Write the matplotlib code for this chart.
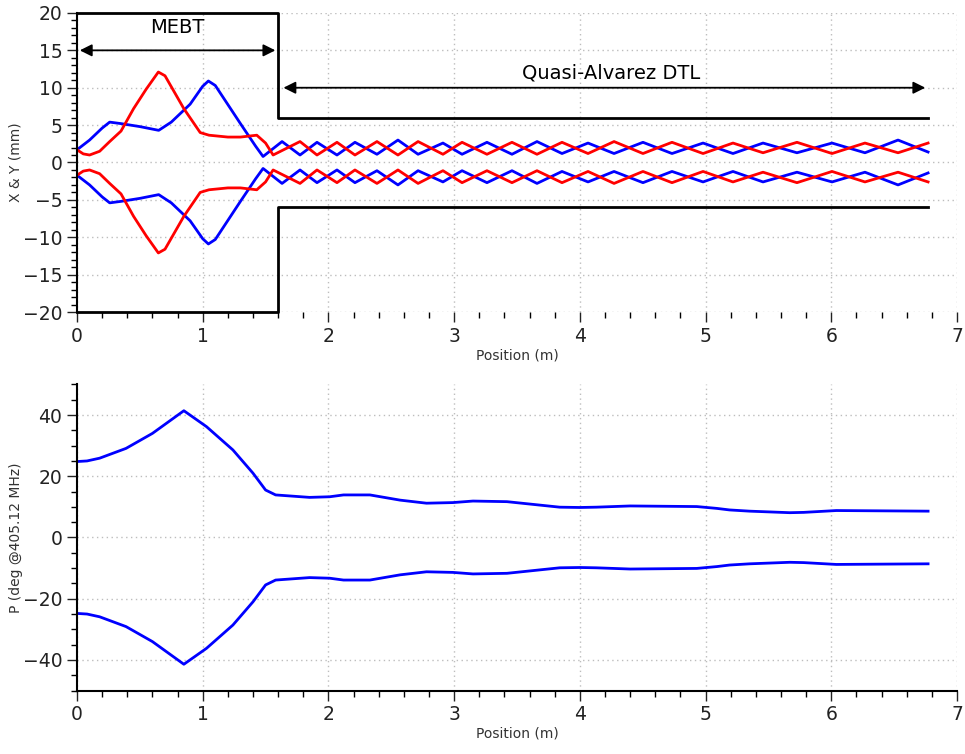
import numpy as np
import matplotlib.pyplot as plt
from matplotlib.ticker import MultipleLocator

# Envelope X (blue) - upper half, mm
x_pos = [0.0, 0.1, 0.2, 0.26, 0.35, 0.5, 0.65, 0.75, 0.9, 1.0, 1.045, 1.1, 1.3, 1.42, 1.48,
         1.631, 1.774, 1.909, 2.068, 2.211, 2.386, 2.553, 2.713, 2.911, 3.063, 3.261, 3.460,
         3.659, 3.858, 4.065, 4.272, 4.502, 4.733, 4.980, 5.218, 5.457, 5.727, 6.006, 6.268,
         6.531, 6.77]
x_env = [1.7, 3.0, 4.6, 5.4, 5.2, 4.8, 4.3, 5.4, 7.8, 10.2, 10.9, 10.3, 5.2, 2.2, 0.8,
         2.8, 1.0, 2.7, 1.0, 2.7, 1.1, 3.0, 1.1, 2.6, 1.1, 2.7, 1.1,
         2.8, 1.2, 2.6, 1.2, 2.7, 1.2, 2.6, 1.2, 2.6, 1.3, 2.6, 1.3,
         3.0, 1.4]

# Envelope Y (red) - upper half, mm
y_pos = [0.0, 0.05, 0.1, 0.18, 0.26, 0.35, 0.45, 0.55, 0.647, 0.7, 0.85, 0.98, 1.05, 1.2, 1.3,
         1.43, 1.5, 1.56,
         1.774, 1.909, 2.068, 2.211, 2.386, 2.553, 2.713, 2.911, 3.063, 3.261, 3.460, 3.659,
         3.858, 4.065, 4.272, 4.502, 4.733, 4.980, 5.218, 5.457, 5.727, 6.006, 6.268, 6.531,
         6.77]
y_env = [1.7, 1.15, 1.0, 1.5, 2.8, 4.2, 7.2, 9.8, 12.1, 11.6, 7.2, 4.0, 3.65, 3.4, 3.4,
         3.65, 2.6, 1.0,
         2.8, 1.0, 2.7, 1.0, 2.8, 1.0, 2.8, 1.1, 2.7, 1.1, 2.7, 1.1,
         2.7, 1.2, 2.8, 1.2, 2.7, 1.2, 2.6, 1.3, 2.7, 1.2, 2.6, 1.3,
         2.6]

# Phase envelope (deg @405.12 MHz) - upper half
p_pos = [0.0, 0.08, 0.18, 0.39, 0.60, 0.85, 1.03, 1.24, 1.40, 1.50, 1.58, 1.85, 2.01, 2.12,
         2.33, 2.57, 2.78, 2.99, 3.15, 3.42, 3.63, 3.84, 4.0, 4.13, 4.40, 4.93, 5.09, 5.19,
         5.35, 5.67, 5.78, 6.04, 6.77]
p_env = [24.8, 25.0, 25.9, 29.1, 34.0, 41.4, 36.2, 28.6, 21.0, 15.5, 13.9, 13.1, 13.3, 13.9,
         13.9, 12.2, 11.2, 11.4, 11.9, 11.7, 10.8, 9.9, 9.8, 9.9, 10.3, 10.1, 9.5, 9.0,
         8.6, 8.1, 8.2, 8.8, 8.6]

# Aperture outline (mm)
ap_x = [0.0, 1.6, 1.6, 6.77]
ap_r = [20.0, 20.0, 6.0, 6.0]

blue = '#0000ff'
red = '#ff0000'

fig = plt.figure(figsize=(9.65, 7.54), dpi=100)
ax1 = fig.add_axes([0.0798, 0.5862, 0.9119, 0.3966])
ax2 = fig.add_axes([0.0798, 0.0841, 0.9119, 0.4061])

xe = np.array(x_env)
ye = np.array(y_env)
pe = np.array(p_env)

ax1.plot(x_pos, xe, color=blue, lw=2.0)
ax1.plot(x_pos, -xe, color=blue, lw=2.0)
ax1.plot(y_pos, ye, color=red, lw=2.0)
ax1.plot(y_pos, -ye, color=red, lw=2.0)

ar = np.array(ap_r)
ax1.plot(ap_x, ar, color='black', lw=2.0, clip_on=False)
ax1.plot(ap_x, -ar, color='black', lw=2.0, clip_on=False)

ax1.annotate('', xy=(0.0, 15), xytext=(1.6, 15),
             arrowprops=dict(arrowstyle='<|-|>', color='black', lw=1.3, mutation_scale=18))
ax1.text(0.8, 18.1, 'MEBT', ha='center', va='center', fontsize=14)
ax1.annotate('', xy=(1.62, 10), xytext=(6.77, 10),
             arrowprops=dict(arrowstyle='<|-|>', color='black', lw=1.3, mutation_scale=18))
ax1.text(4.25, 12.0, 'Quasi-Alvarez DTL', ha='center', va='center', fontsize=14)

ax2.plot(p_pos, pe, color=blue, lw=2.0)
ax2.plot(p_pos, -pe, color=blue, lw=2.0)

for ax in (ax1, ax2):
    ax.set_xlim(0, 7)
    ax.xaxis.set_major_locator(MultipleLocator(1))
    ax.xaxis.set_minor_locator(MultipleLocator(0.2))
    ax.spines['top'].set_visible(False)
    ax.spines['right'].set_visible(False)
    ax.spines['left'].set_linewidth(1.5)
    ax.grid(True, which='major', color='#bdbdbd', linestyle=(0, (1, 2.5)), lw=1.0)
    ax.tick_params(which='major', length=7, width=1.0, labelsize=13.5, colors='#222222')
    ax.tick_params(which='minor', length=4, width=1.0)
    ax.set_xlabel('Position (m)', fontsize=10, color='#333333', labelpad=2)

ax1.set_ylim(-20, 20)
ax1.yaxis.set_major_locator(MultipleLocator(5))
ax1.yaxis.set_minor_locator(MultipleLocator(1))
ax1.spines['bottom'].set_visible(False)
ax1.set_ylabel('X & Y (mm)', fontsize=10, color='#333333', labelpad=0)

ax2.set_ylim(-50, 50)
ax2.yaxis.set_major_locator(MultipleLocator(20))
ax2.yaxis.set_minor_locator(MultipleLocator(5))
ax2.spines['bottom'].set_linewidth(1.5)
ax2.set_ylabel('P (deg @405.12 MHz)', fontsize=10, color='#333333', labelpad=0)

fig.savefig('out.png', dpi=100)
